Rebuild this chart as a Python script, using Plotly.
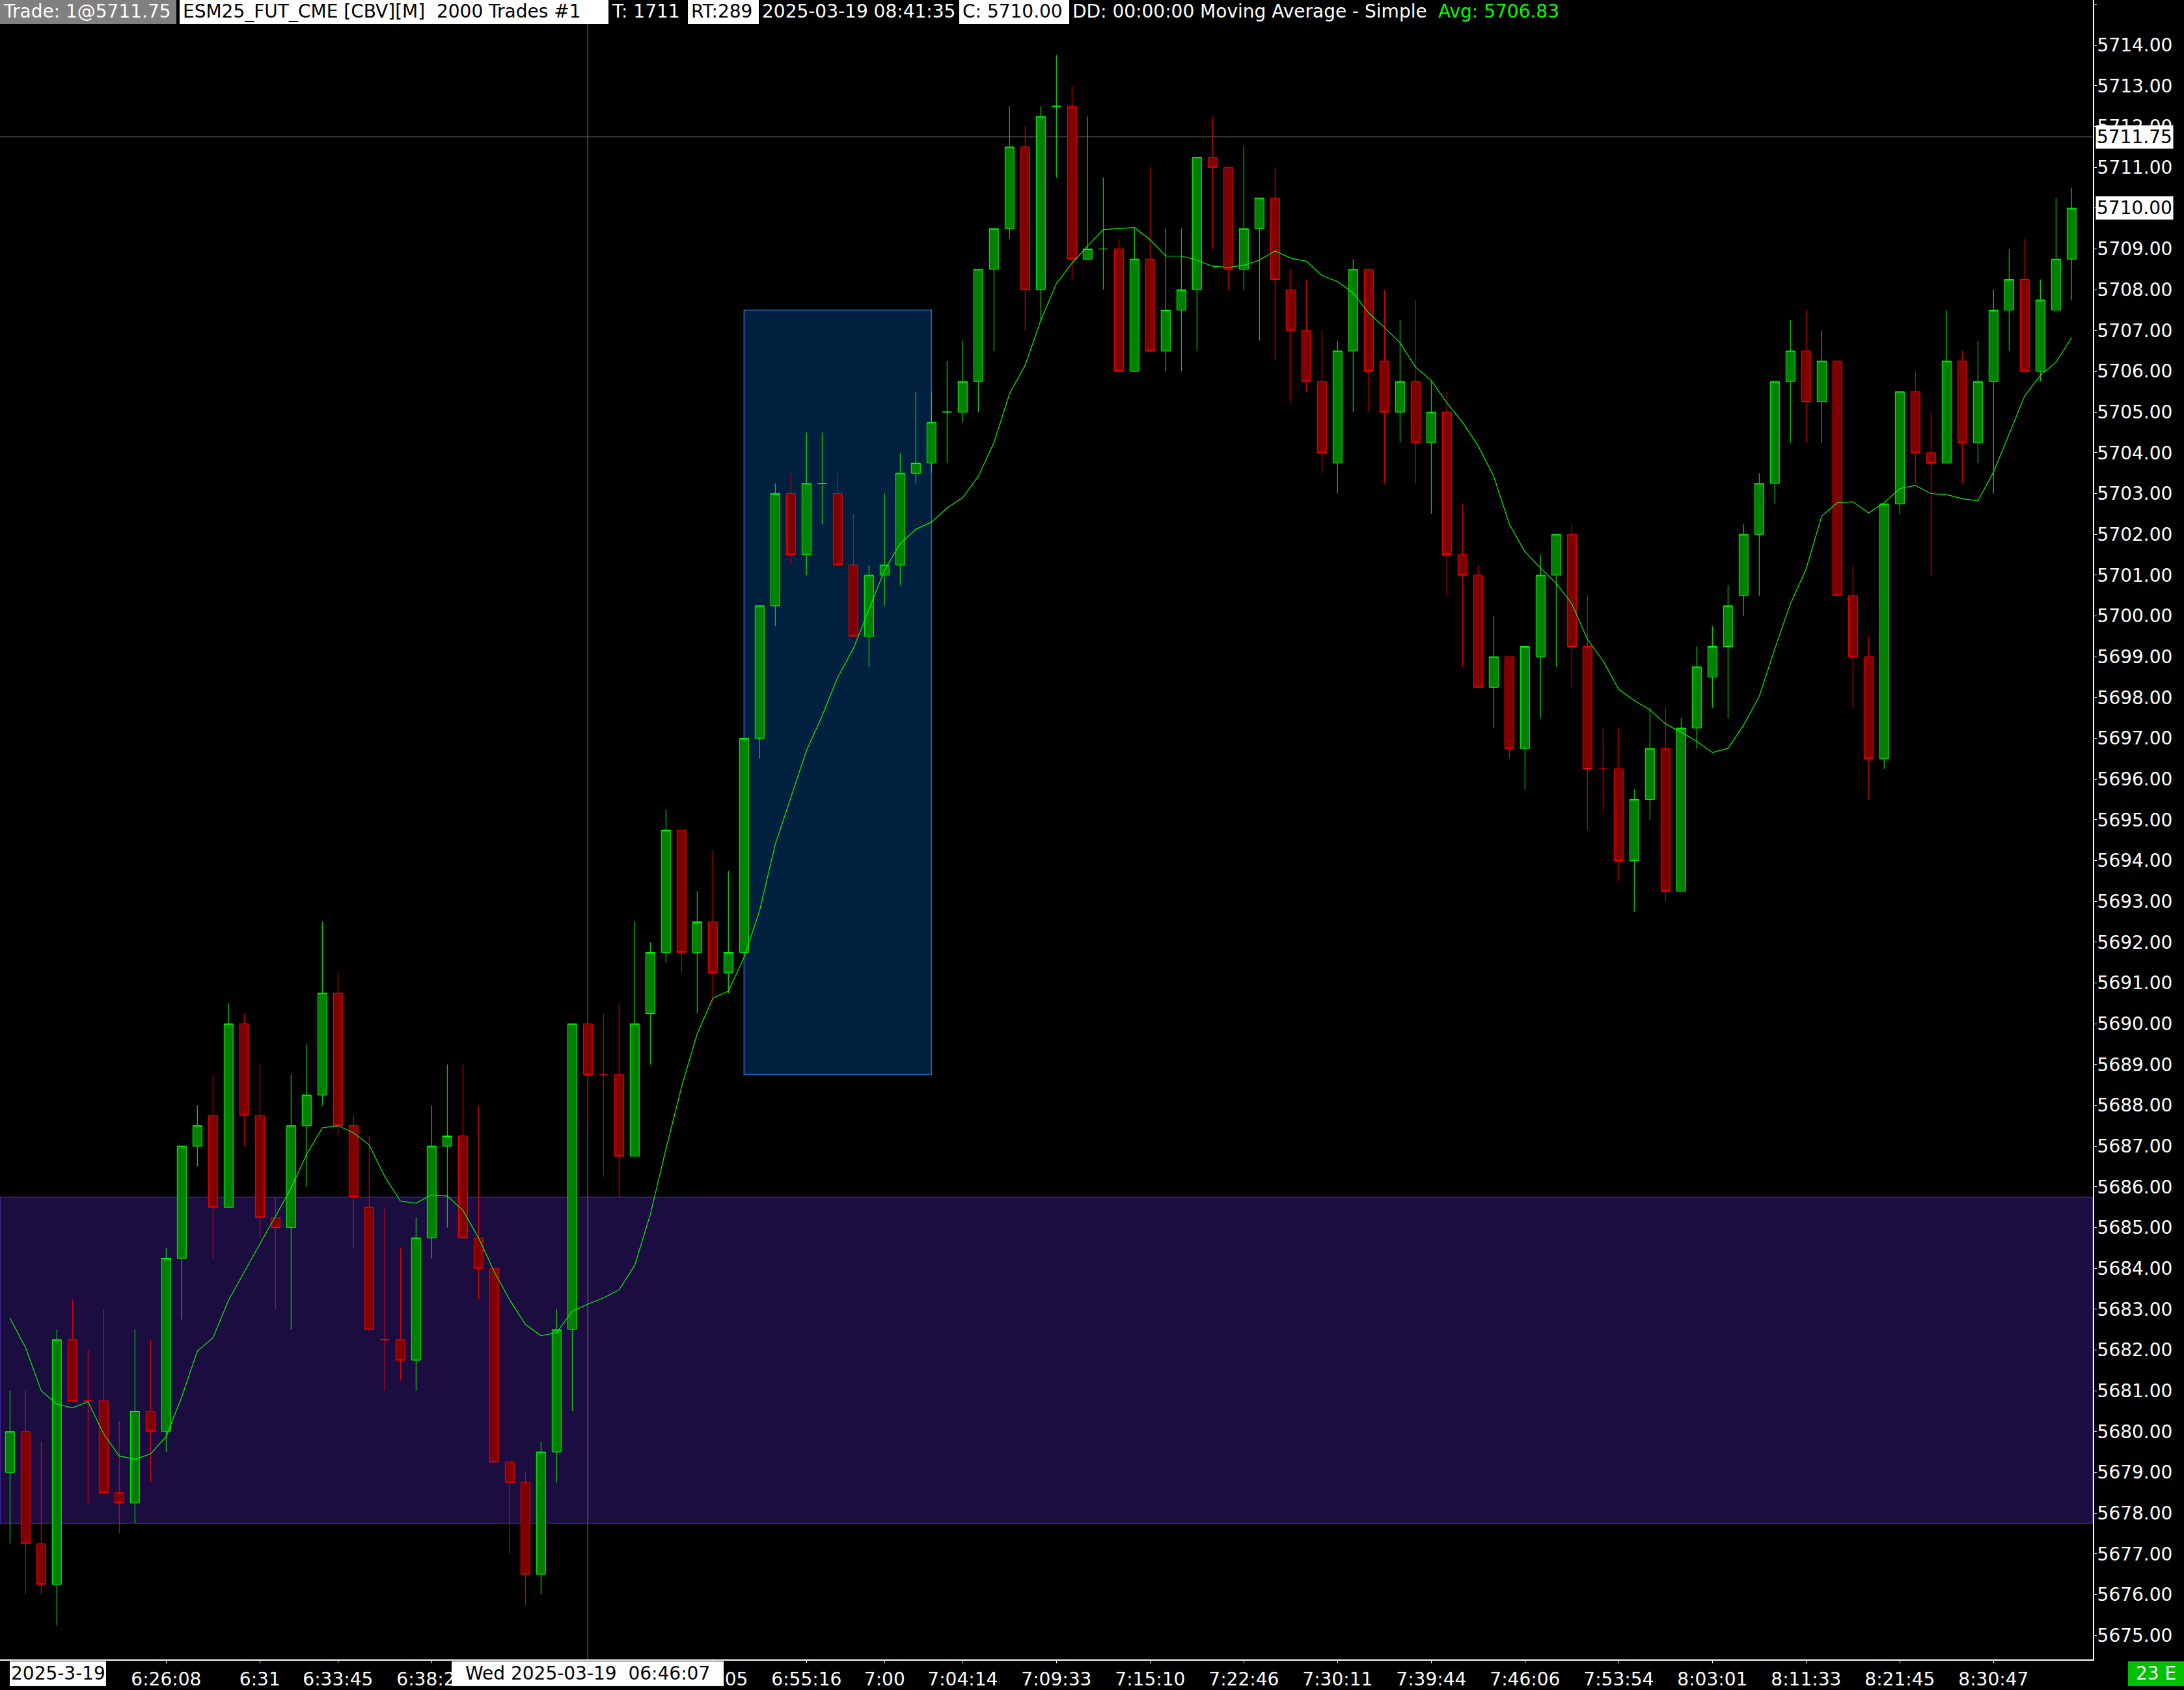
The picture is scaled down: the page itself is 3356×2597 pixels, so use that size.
import plotly.graph_objects as go

W, H = 3356, 2597
MR, MB = 140, 41
PW, PH = W - MR, H - MB  # plot area 3216 x 2556

# ---------------- data ----------------
bar_index = list(range(133))
opens = [5679.0, 5680.0, 5677.25, 5676.25, 5682.25, 5680.75, 5680.75, 5678.5, 5678.25, 5680.5,
         5680.0, 5684.25, 5687.0, 5687.75, 5685.5, 5690.0, 5687.75, 5685.25, 5685.0, 5687.5,
         5688.25, 5690.75, 5687.5, 5685.5, 5682.25, 5682.25, 5681.75, 5684.75, 5687.0, 5687.25,
         5684.75, 5684.0, 5679.25, 5678.75, 5676.5, 5679.5, 5682.5, 5690.0, 5688.75, 5688.75,
         5686.75, 5690.25, 5691.75, 5694.75, 5691.75, 5692.5, 5691.25, 5691.75, 5697.0, 5700.25,
         5703.0, 5701.5, 5703.25, 5703.0, 5701.25, 5699.5, 5701.0, 5701.25, 5703.5, 5703.75,
         5705.0, 5705.0, 5705.75, 5708.5, 5709.5, 5711.5, 5708.0, 5712.5, 5712.5, 5708.75,
         5709.0, 5709.0, 5706.0, 5708.75, 5706.5, 5707.5, 5708.0, 5711.25, 5711.0, 5708.5,
         5709.5, 5710.25, 5708.0, 5707.0, 5705.75, 5703.75, 5706.5, 5708.5, 5706.25, 5705.0,
         5705.75, 5704.25, 5705.0, 5701.5, 5701.0, 5698.25, 5699.0, 5696.75, 5699.0, 5701.0,
         5702.0, 5699.25, 5696.25, 5696.25, 5694.0, 5695.5, 5696.75, 5693.25, 5697.25, 5698.5,
         5699.25, 5700.5, 5702.0, 5703.25, 5705.75, 5706.5, 5705.25, 5706.25, 5700.5, 5699.0,
         5696.5, 5702.75, 5705.5, 5704.0, 5703.75, 5706.25, 5704.25, 5705.75, 5707.5, 5708.25,
         5706.0, 5707.5, 5708.75]
highs = [5681.0, 5681.0, 5679.75, 5682.5, 5683.25, 5682.0, 5683.0, 5680.25, 5682.5, 5682.25,
         5684.5, 5687.0, 5688.0, 5688.75, 5690.5, 5690.25, 5689.0, 5685.75, 5688.75, 5689.5,
         5692.5, 5691.25, 5687.75, 5687.25, 5685.5, 5684.5, 5685.25, 5688.0, 5689.0, 5689.0,
         5688.0, 5684.0, 5679.25, 5679.0, 5679.75, 5683.0, 5690.0, 5690.0, 5690.25, 5690.5,
         5692.5, 5692.0, 5695.25, 5694.75, 5693.25, 5694.25, 5693.75, 5697.0, 5700.25, 5703.25,
         5703.5, 5704.5, 5704.5, 5703.5, 5702.5, 5701.25, 5703.0, 5704.0, 5705.5, 5705.5,
         5706.25, 5706.75, 5708.5, 5709.5, 5712.5, 5712.0, 5712.5, 5713.75, 5713.0, 5712.25,
         5710.75, 5709.25, 5709.5, 5711.0, 5709.5, 5709.5, 5711.25, 5712.25, 5711.0, 5711.5,
         5710.25, 5711.0, 5708.5, 5708.25, 5707.0, 5706.75, 5708.75, 5708.5, 5708.0, 5707.25,
         5707.75, 5705.75, 5705.5, 5702.75, 5701.25, 5700.0, 5699.0, 5699.25, 5701.5, 5702.0,
         5702.25, 5700.5, 5697.25, 5697.25, 5695.75, 5697.75, 5697.75, 5697.5, 5699.25, 5699.75,
         5700.75, 5702.25, 5703.5, 5705.75, 5707.25, 5707.5, 5707.0, 5706.25, 5701.25, 5699.5,
         5702.75, 5705.5, 5706.0, 5705.0, 5707.5, 5706.5, 5706.75, 5708.0, 5709.0, 5709.25,
         5708.25, 5710.25, 5710.5]
lows = [5677.25, 5676.0, 5676.0, 5675.25, 5680.75, 5678.25, 5678.5, 5677.5, 5677.75, 5678.75,
        5679.5, 5682.75, 5686.5, 5684.25, 5685.5, 5687.0, 5684.75, 5683.0, 5682.5, 5686.0,
        5688.0, 5687.25, 5684.5, 5682.5, 5681.0, 5681.25, 5681.0, 5684.25, 5685.0, 5684.75,
        5683.25, 5679.25, 5677.0, 5675.75, 5676.0, 5678.75, 5680.5, 5687.5, 5686.25, 5685.75,
        5686.75, 5689.0, 5691.5, 5691.25, 5690.25, 5690.5, 5690.75, 5691.75, 5696.5, 5699.75,
        5701.25, 5701.0, 5702.25, 5701.25, 5699.5, 5698.75, 5700.25, 5700.75, 5703.25, 5703.5,
        5703.75, 5704.75, 5705.0, 5706.5, 5709.25, 5707.0, 5707.25, 5710.75, 5708.25, 5708.75,
        5708.0, 5706.0, 5706.0, 5706.5, 5706.0, 5706.0, 5706.5, 5709.0, 5708.0, 5708.0,
        5706.75, 5706.25, 5705.25, 5705.5, 5703.5, 5703.0, 5705.0, 5705.0, 5703.25, 5704.25,
        5703.25, 5702.5, 5700.5, 5698.75, 5698.25, 5697.25, 5696.5, 5695.75, 5697.5, 5698.75,
        5698.25, 5694.75, 5695.25, 5693.5, 5692.75, 5695.0, 5693.0, 5693.25, 5696.75, 5697.75,
        5697.5, 5700.0, 5700.5, 5702.75, 5704.25, 5704.25, 5704.25, 5700.5, 5697.75, 5695.5,
        5696.25, 5702.5, 5703.25, 5701.0, 5703.75, 5703.25, 5703.75, 5703.0, 5706.5, 5706.0,
        5705.75, 5707.5, 5707.75]
closes = [5680.0, 5677.25, 5676.25, 5682.25, 5680.75, 5680.75, 5678.5, 5678.25, 5680.5, 5680.0,
          5684.25, 5687.0, 5687.5, 5685.5, 5690.0, 5687.75, 5685.25, 5685.0, 5687.5, 5688.25,
          5690.75, 5687.5, 5685.75, 5682.5, 5682.25, 5681.75, 5684.75, 5687.0, 5687.25, 5684.75,
          5684.0, 5679.25, 5678.75, 5676.5, 5679.5, 5682.5, 5690.0, 5688.75, 5688.75, 5686.75,
          5690.0, 5691.75, 5694.75, 5691.75, 5692.5, 5691.25, 5691.75, 5697.0, 5700.25, 5703.0,
          5701.5, 5703.25, 5703.25, 5701.25, 5699.5, 5701.0, 5701.25, 5703.5, 5703.75, 5704.75,
          5705.0, 5705.75, 5708.5, 5709.5, 5711.5, 5708.0, 5712.25, 5712.5, 5708.75, 5709.0,
          5709.0, 5706.0, 5708.75, 5706.5, 5707.5, 5708.0, 5711.25, 5711.0, 5708.5, 5709.5,
          5710.25, 5708.25, 5707.0, 5705.75, 5704.0, 5706.5, 5708.5, 5706.0, 5705.0, 5705.75,
          5704.25, 5705.0, 5701.5, 5701.0, 5698.25, 5699.0, 5696.75, 5699.25, 5701.0, 5702.0,
          5699.25, 5696.25, 5696.25, 5694.0, 5695.5, 5696.75, 5693.25, 5697.25, 5698.75, 5699.25,
          5700.25, 5702.0, 5703.25, 5705.75, 5706.5, 5705.25, 5706.25, 5700.5, 5699.0, 5696.5,
          5702.75, 5705.5, 5704.0, 5703.75, 5706.25, 5704.25, 5705.75, 5707.5, 5708.25, 5706.0,
          5707.75, 5708.75, 5710.0]
# moving average values at the first bars (they depend on bars before the window)
ma_head = [5682.78, 5682.06, 5681.0, 5680.67, 5680.58, 5680.73, 5679.94, 5679.4, 5679.32]
ma_period = 10

tick_idx = [10, 16, 21, 27, 45, 51, 56, 61, 67, 73, 79, 85, 91, 97, 103, 109, 115, 121, 127]
tick_text = ["6:26:08", "6:31", "6:33:45", "6:38:26", "6:50:05", "6:55:16", "7:00", "7:04:14",
             "7:09:33", "7:15:10", "7:22:46", "7:30:11", "7:39:44", "7:46:06", "7:53:54",
             "8:03:01", "8:11:33", "8:21:45", "8:30:47"]

zone_low, zone_high = 5677.75, 5685.75
box_bars, box_prices = (47, 59), (5688.75, 5707.5)
cross_bar, cross_price = 37, 5711.75
last_price = 5710.00

# ---------------- derived ----------------
ma = list(ma_head)
for i in range(len(ma_head), len(closes)):
    ma.append(sum(closes[i - ma_period + 1:i + 1]) / ma_period)

direction, prev = [], "up"
for o, c in zip(opens, closes):
    d = "up" if c > o else ("down" if c < o else prev)
    direction.append(d)
    prev = d


def pick(vals, dirn):
    return [v for v, d in zip(vals, direction) if d == dirn]


FONT = "DejaVu Sans"
FS = 28

fig = go.Figure()
for dirn, lc, fc in (("up", "#00ff00", "#008000"), ("down", "#ff0000", "#800000")):
    style = dict(line=dict(color=lc, width=1), fillcolor=fc)
    fig.add_trace(go.Candlestick(
        x=pick(bar_index, dirn), open=pick(opens, dirn), high=pick(highs, dirn),
        low=pick(lows, dirn), close=pick(closes, dirn),
        increasing=style, decreasing=style, whiskerwidth=0, showlegend=False,
        hoverinfo="skip"))

fig.add_trace(go.Scatter(x=bar_index, y=ma, mode="lines",
                         line=dict(color="#00ff00", width=1.2), showlegend=False,
                         hoverinfo="skip"))


def px(x):
    return x / PW


def py(y):
    return 1 - y / PH


shapes = [
    dict(type="rect", xref="paper", yref="y", x0=0, x1=1, y0=zone_low, y1=zone_high,
         fillcolor="#1b0d40", line=dict(color="#6c3cf0", width=1), layer="below"),
    dict(type="rect", xref="x", yref="y", x0=box_bars[0], x1=box_bars[1],
         y0=box_prices[0], y1=box_prices[1],
         fillcolor="#00203f", line=dict(color="#2070c8", width=1.5), layer="below"),
    dict(type="line", xref="paper", yref="y", x0=0, x1=1, y0=cross_price, y1=cross_price,
         line=dict(color="#808080", width=1), layer="below"),
    dict(type="line", xref="x", yref="paper", x0=cross_bar, x1=cross_bar, y0=0, y1=1,
         line=dict(color="#808080", width=1), layer="below"),
]

annotations = []

# header segments: (x_left, x_right, bg, text, text colour)
header = [
    (0, 271, "#808080", "Trade: 1@5711.75", "white"),
    (276, 935, "white", "ESM25_FUT_CME [CBV][M]\u00a0 2000 Trades #1", "black"),
    (935, 1052, None, "T: 1711", "white"),
    (1057, 1166, "white", "RT:289", "black"),
    (1166, 1474, None, "2025-03-19 08:41:35", "white"),
    (1474, 1643, "white", "C: 5710.00", "black"),
    (1643, 2205, None, "DD: 00:00:00 Moving Average - Simple", "white"),
    (2205, 2410, None, "Avg: 5706.83", "#00ff00"),
]
for x0, x1, bg, txt, col in header:
    if bg:
        shapes.append(dict(type="rect", xref="paper", yref="paper", x0=px(x0), x1=px(x1),
                           y0=py(37), y1=1, fillcolor=bg, line=dict(width=0), layer="above"))
    annotations.append(dict(xref="paper", yref="paper", x=px(x0 + 3), y=py(18),
                            xanchor="left", yanchor="middle", text=txt, showarrow=False,
                            font=dict(family=FONT, size=FS, color=col)))

# bottom boxes
bottom = [
    (15, 163, "white", "2025-3-19", "black"),
    (694, 1112, "white", "Wed 2025-03-19\u00a0 06:46:07", "black"),
    (3270, 3356, "#00c000", "23 E", "white"),
]
for x0, x1, bg, txt, col in bottom:
    shapes.append(dict(type="rect", xref="paper", yref="paper", x0=px(x0), x1=px(x1),
                       y0=py(2597), y1=py(2559), fillcolor=bg, line=dict(width=0),
                       layer="above"))
    annotations.append(dict(xref="paper", yref="paper", x=px((x0 + x1) / 2), y=py(2578),
                            xanchor="center", yanchor="middle", text=txt, showarrow=False,
                            font=dict(family=FONT, size=FS, color=col)))

# price boxes on the right axis
for val in (cross_price, last_price):
    annotations.append(dict(xref="paper", yref="y", x=1, xshift=4, y=val, xanchor="left",
                            yanchor="middle", text=f"{val:.2f}", showarrow=False,
                            bgcolor="white", borderpad=1,
                            font=dict(family=FONT, size=FS, color="black")))

fig.update_layout(
    width=W, height=H,
    margin=dict(l=0, r=MR, t=0, b=MB, pad=0),
    paper_bgcolor="black", plot_bgcolor="black",
    boxgap=0.42, boxgroupgap=0, boxmode="overlay",
    shapes=shapes, annotations=annotations, showlegend=False,
    xaxis=dict(range=[-0.6375, 133.3625], tickmode="array", tickvals=tick_idx,
               ticktext=tick_text, ticks="outside", ticklen=4, tickcolor="white",
               showline=True, linecolor="white", linewidth=2, showgrid=False,
               zeroline=False, rangeslider=dict(visible=False),
               tickfont=dict(family=FONT, size=FS, color="white")),
    yaxis=dict(side="right", range=[5674.411, 5715.105], tick0=5675, dtick=1,
               tickformat=".2f", ticks="outside", ticklen=4, tickcolor="white",
               ticklabelstandoff=-5,
               showline=True, linecolor="white", linewidth=2, showgrid=False,
               zeroline=False, tickfont=dict(family=FONT, size=FS, color="white")),
)

fig.write_html(
    "out.html",
    config={"displayModeBar": False},
    post_script="document.body.style.margin='0';document.body.style.overflow='hidden';",
)
